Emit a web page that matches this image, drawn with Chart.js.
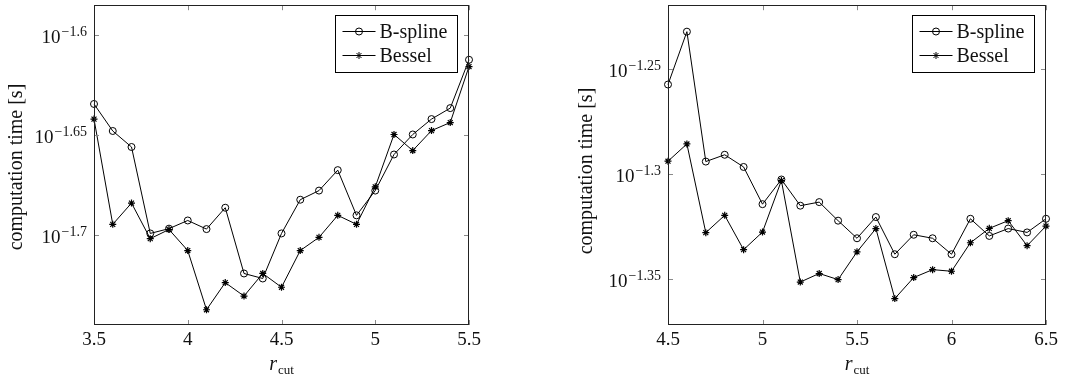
<!DOCTYPE html>
<html lang="en">
<head>
  <meta charset="UTF-8">
  <title>Computation time vs r_cut</title>
  <style>
    body {
      margin: 0;
      background-color: #fff;
    }
    .row {
      display: flex;
      width: 1075px;
      height: 378px;
    }
    canvas {
      display: block;
    }
  </style>
  <script src="https://cdn.jsdelivr.net/npm/chart.js"></script>
</head>
<body>
<div class="row">
  <canvas id="leftChart" width="540" height="378"></canvas>
  <canvas id="rightChart" width="535" height="378"></canvas>
</div>

<script>
  // Left panel: r_cut 3.5 .. 5.5
  const leftR = [3.5, 3.6, 3.7, 3.8, 3.9, 4.0, 4.1, 4.2, 4.3, 4.4, 4.5,
                 4.6, 4.7, 4.8, 4.9, 5.0, 5.1, 5.2, 5.3, 5.4, 5.5];
  const leftBspline = [0.02321, 0.02250, 0.02209, 0.02000, 0.02011, 0.02030, 0.02010,
                       0.02060, 0.01910, 0.01899, 0.02000, 0.02079, 0.02101, 0.02151,
                       0.02042, 0.02101, 0.02190, 0.02241, 0.02281, 0.02310, 0.02442];
  const leftBessel = [0.02281, 0.02021, 0.02071, 0.01988, 0.02009, 0.01961, 0.01832,
                      0.01890, 0.01861, 0.01910, 0.01880, 0.01961, 0.01991, 0.02042,
                      0.02021, 0.02110, 0.02241, 0.02200, 0.02251, 0.02272, 0.02423];
  const leftXTicks = [3.5, 4, 4.5, 5, 5.5];
  const leftYTickExps = [-1.7, -1.65, -1.6];
  const leftYTickLabels = ['\u22121.7', '\u22121.65', '\u22121.6'];

  // Right panel: r_cut 4.5 .. 6.5
  const rightR = [4.5, 4.6, 4.7, 4.8, 4.9, 5.0, 5.1, 5.2, 5.3, 5.4, 5.5,
                  5.6, 5.7, 5.8, 5.9, 6.0, 6.1, 6.2, 6.3, 6.4, 6.5];
  const rightBspline = [0.05530, 0.05860, 0.05082, 0.05120, 0.05052, 0.04850, 0.04983,
                        0.04842, 0.04861, 0.04763, 0.04672, 0.04782, 0.04591, 0.04690,
                        0.04672, 0.04591, 0.04773, 0.04684, 0.04722, 0.04702, 0.04773];
  const rightBessel = [0.05084, 0.05181, 0.04701, 0.04791, 0.04614, 0.04704, 0.04977,
                       0.04453, 0.04495, 0.04465, 0.04603, 0.04722, 0.04373, 0.04475,
                       0.04514, 0.04506, 0.04649, 0.04723, 0.04763, 0.04634, 0.04735];
  const rightXTicks = [4.5, 5, 5.5, 6, 6.5];
  const rightYTickExps = [-1.35, -1.3, -1.25];
  const rightYTickLabels = ['\u22121.35', '\u22121.3', '\u22121.25'];

  const seriesNames = ['B-spline', 'Bessel'];
  const yTitle = 'computation time [s]';
  const FONT = '"Liberation Serif", "Times New Roman", serif';

  function drawMarker(ctx, style, x, y) {
    ctx.beginPath();
    if (style === 'circle') {
      ctx.arc(x, y, 3.5, 0, Math.PI * 2);
    } else {
      for (let k = 0; k < 4; k++) {
        const ang = k * Math.PI / 4;
        ctx.moveTo(x - 3.5 * Math.cos(ang), y - 3.5 * Math.sin(ang));
        ctx.lineTo(x + 3.5 * Math.cos(ang), y + 3.5 * Math.sin(ang));
      }
    }
    ctx.stroke();
  }

  // pgfplots-like frame, inward ticks, labels and legend
  function pgfAxes(o) {
    return {
      id: 'pgfAxes',
      afterDraw(chart) {
        const ctx = chart.ctx;
        const a = chart.chartArea;
        const xs = chart.scales.x;
        const ys = chart.scales.y;
        ctx.save();

        // tick marks
        ctx.strokeStyle = '#8a8a8a';
        ctx.lineWidth = 1;
        ctx.beginPath();
        o.xTicks.forEach(v => {
          const px = Math.round(xs.getPixelForValue(v)) + 0.5;
          ctx.moveTo(px, a.bottom); ctx.lineTo(px, a.bottom - 5);
          ctx.moveTo(px, a.top); ctx.lineTo(px, a.top + 5);
        });
        o.yTickExps.forEach(e => {
          const py = Math.round(ys.getPixelForValue(Math.pow(10, e))) + 0.5;
          ctx.moveTo(a.left, py); ctx.lineTo(a.left + 5, py);
          ctx.moveTo(a.right, py); ctx.lineTo(a.right - 5, py);
        });
        ctx.stroke();

        // frame
        ctx.strokeStyle = '#222';
        ctx.strokeRect(Math.round(a.left) + 0.5, Math.round(a.top) + 0.5,
                       Math.round(a.width) - 1, Math.round(a.height) - 1);

        ctx.fillStyle = '#111';
        // x tick labels
        ctx.font = '19px ' + FONT;
        ctx.textAlign = 'center';
        ctx.textBaseline = 'middle';
        o.xTicks.forEach(v => {
          ctx.fillText(String(v), xs.getPixelForValue(v), a.bottom + 15);
        });

        // y tick labels 10^e
        o.yTickExps.forEach((e, i) => {
          const py = ys.getPixelForValue(Math.pow(10, e));
          const right = a.left - 7;
          ctx.font = '14px ' + FONT;
          ctx.textAlign = 'right';
          const we = ctx.measureText(o.yTickLabels[i]).width;
          ctx.fillText(o.yTickLabels[i], right, py - 3);
          ctx.font = '19px ' + FONT;
          ctx.fillText('10', right - we - 1, py + 3);
        });

        // y title
        ctx.save();
        ctx.translate(o.yTitleX, o.yTitleY);
        ctx.rotate(-Math.PI / 2);
        ctx.font = '20px ' + FONT;
        ctx.textAlign = 'center';
        ctx.textBaseline = 'middle';
        ctx.fillText(yTitle, 0, 0);
        ctx.restore();

        // x title r_cut
        const cx = (a.left + a.right) / 2;
        ctx.textBaseline = 'alphabetic';
        ctx.textAlign = 'left';
        ctx.font = 'italic 20px ' + FONT;
        const wr = ctx.measureText('r').width;
        ctx.font = '13px ' + FONT;
        const wc = ctx.measureText('cut').width;
        const x0 = cx - (wr + wc + 1) / 2;
        ctx.font = 'italic 20px ' + FONT;
        ctx.fillText('r', x0, 370);
        ctx.font = '13px ' + FONT;
        ctx.fillText('cut', x0 + wr + 1, 374);

        // legend
        const bw = 122, bh = 57;
        const bx = Math.round(a.right - 12 - bw) + 0.5;
        const by = Math.round(a.top + 10) + 0.5;
        ctx.fillStyle = '#fff';
        ctx.fillRect(bx, by, bw, bh);
        ctx.strokeStyle = '#000';
        ctx.lineWidth = 1;
        ctx.strokeRect(bx, by, bw, bh);
        const styles = ['circle', 'star'];
        seriesNames.forEach((name, i) => {
          const ry = by + 16 + i * 24;
          ctx.strokeStyle = '#000';
          ctx.beginPath();
          ctx.moveTo(bx + 7, ry); ctx.lineTo(bx + 40, ry);
          ctx.stroke();
          drawMarker(ctx, styles[i], bx + 23.5, ry);
          ctx.fillStyle = '#111';
          ctx.font = '20px ' + FONT;
          ctx.textAlign = 'left';
          ctx.textBaseline = 'middle';
          ctx.fillText(name, bx + 44, ry + 1);
        });

        ctx.restore();
      }
    };
  }

  function makeChart(id, rs, bspline, bessel, opts) {
    const toPts = vals => rs.map((r, i) => ({ x: r, y: vals[i] }));
    const ctx = document.getElementById(id).getContext('2d');
    return new Chart(ctx, {
      type: 'line',
      data: {
        datasets: [{
          label: seriesNames[0],
          data: toPts(bspline),
          borderColor: '#000',
          borderWidth: 1,
          pointStyle: 'circle',
          pointRadius: 3.5,
          pointBorderWidth: 1,
          pointBorderColor: '#000',
          pointBackgroundColor: 'rgba(0,0,0,0)',
          tension: 0,
          clip: false,
          order: 1
        }, {
          label: seriesNames[1],
          data: toPts(bessel),
          borderColor: '#000',
          borderWidth: 1,
          pointStyle: 'star',
          pointRadius: 3.5,
          pointBorderWidth: 1.2,
          pointBorderColor: '#000',
          pointBackgroundColor: '#000',
          tension: 0,
          clip: false,
          order: 0
        }]
      },
      options: {
        responsive: false,
        devicePixelRatio: 1,
        animation: false,
        layout: { padding: opts.padding },
        plugins: {
          legend: { display: false },
          tooltip: { enabled: false }
        },
        scales: {
          x: { type: 'linear', min: opts.xMin, max: opts.xMax, display: false },
          y: { type: 'logarithmic', min: opts.yMin, max: opts.yMax, display: false }
        }
      },
      plugins: [pgfAxes(opts)]
    });
  }

  makeChart('leftChart', leftR, leftBspline, leftBessel, {
    padding: { left: 94, right: 71, top: 4, bottom: 53 },
    xMin: 3.5, xMax: 5.5,
    yMin: Math.pow(10, -1.7447), yMax: Math.pow(10, -1.585),
    xTicks: leftXTicks, yTickExps: leftYTickExps, yTickLabels: leftYTickLabels,
    yTitleX: 17, yTitleY: 167
  });

  makeChart('rightChart', rightR, rightBspline, rightBessel, {
    padding: { left: 128, right: 29, top: 4, bottom: 53 },
    xMin: 4.5, xMax: 6.5,
    yMin: Math.pow(10, -1.3718), yMax: Math.pow(10, -1.2195),
    xTicks: rightXTicks, yTickExps: rightYTickExps, yTickLabels: rightYTickLabels,
    yTitleX: 47, yTitleY: 171
  });
</script>
</body>
</html>
